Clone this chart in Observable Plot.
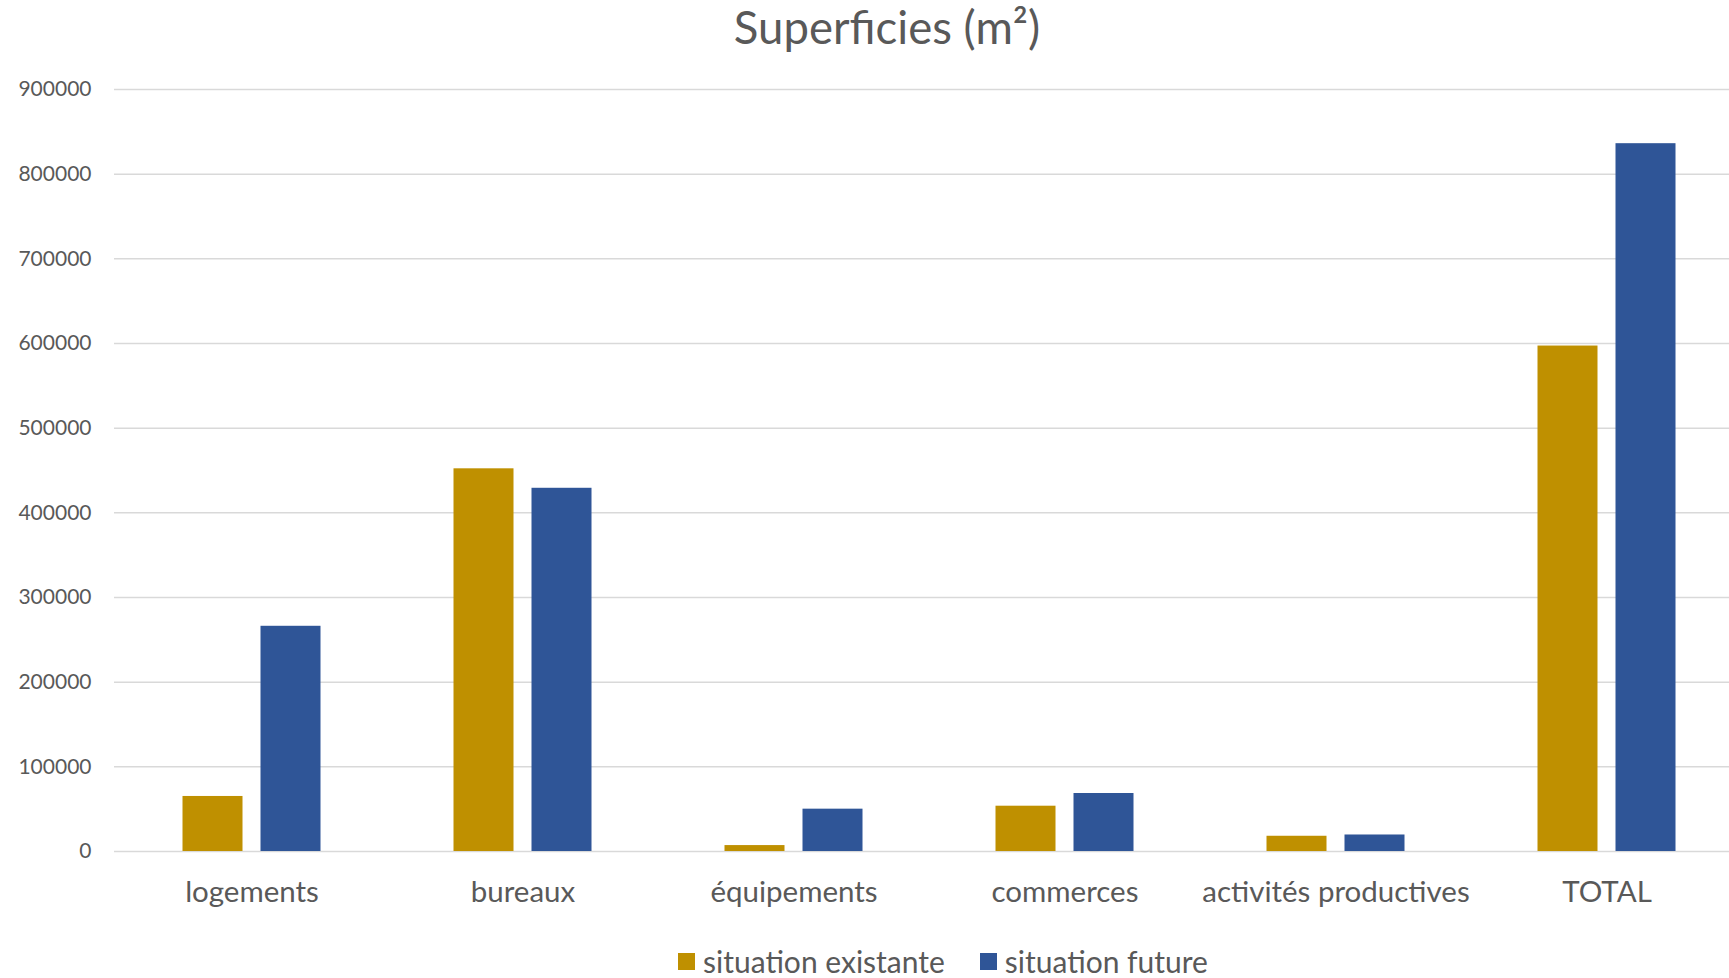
<!DOCTYPE html>
<html><head><meta charset="utf-8">
<script src="https://cdn.jsdelivr.net/npm/d3@7"></script>
<script src="https://cdn.jsdelivr.net/npm/@observablehq/plot@0.6"></script>
<style>
body{margin:0;background:#fff;font-family:Lato,"Open Sans",sans-serif;color:#595959;}
#wrap{width:1729px;}
#title{height:60px;line-height:54px;font-size:45.5px;text-align:center;padding-left:45px;}
#legend{height:58px;display:flex;align-items:center;padding-left:678px;font-size:30px;line-height:32px;}
.item{display:flex;align-items:center;margin-right:35px;}
.sw{width:17px;height:17px;margin-right:8px;}
</style></head>
<body>
<div id="wrap">
<div id="title">Superficies (m²)</div>
<div id="chart"></div>
<div id="legend"></div>
</div>
<script>
const categories = ["logements","bureaux","équipements","commerces","activités productives","TOTAL"];
const series = ["situation existante","situation future"];
const existante = [65000, 452000, 7000, 53500, 18000, 597000];
const future = [266000, 429000, 50000, 68500, 19500, 836000];
const yTicks = [0,100000,200000,300000,400000,500000,600000,700000,800000,900000];
const colors = ["#bf9000","#2f5597"];

const rowsE = categories.map((c,i)=>({category:c, series:series[0], value:existante[i]}));
const rowsF = categories.map((c,i)=>({category:c, series:series[1], value:future[i]}));

const plot = Plot.plot({
  width:1729, height:872,
  marginTop:29, marginBottom:81, marginLeft:114, marginRight:0,
  style:{fontFamily:"Lato", background:"white", overflow:"visible"},
  x:{type:"band", domain:categories, range:[113,1744], padding:0},
  y:{domain:[0,900000]},
  marks:[
    Plot.ruleY(yTicks,{stroke:"#d9d9d9", strokeWidth:1.5}),
    Plot.barY(rowsE,{x:"category", y:"value", fill:colors[0], insetLeft:66.5, insetRight:144.5}),
    Plot.barY(rowsF,{x:"category", y:"value", fill:colors[1], insetLeft:144.5, insetRight:66.5}),
    Plot.axisY({ticks:yTicks, tickSize:0, tickPadding:23, tickFormat:d3.format("d"), fontSize:21, color:"#595959", label:null}),
    Plot.axisX({tickSize:0, tickPadding:30, fontSize:29.5, color:"#595959", label:null})
  ]
});
document.getElementById("chart").appendChild(plot);

const lg = document.getElementById("legend");
series.forEach((s,i)=>{
  const it = document.createElement("div"); it.className="item";
  const sw = document.createElement("div"); sw.className="sw"; sw.style.background=colors[i];
  const t = document.createElement("span"); t.textContent=s;
  it.appendChild(sw); it.appendChild(t); lg.appendChild(it);
});
</script>
</body></html>
